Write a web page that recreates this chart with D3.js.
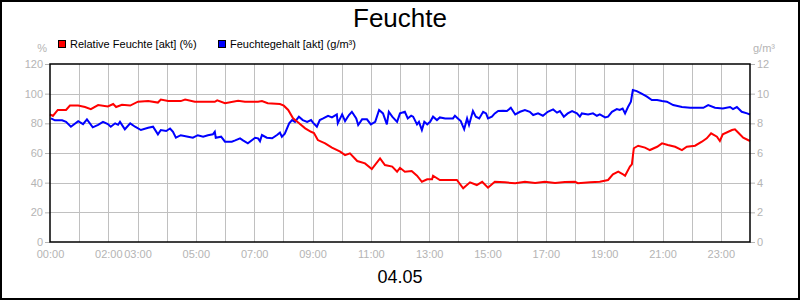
<!DOCTYPE html>
<html><head><meta charset="utf-8">
<script src="https://cdn.jsdelivr.net/npm/d3@7/dist/d3.min.js"></script>
<style>
html,body{margin:0;padding:0;background:#fff;}
svg{display:block;font-family:"Liberation Sans",Arial,sans-serif;}
</style></head>
<body><svg id="c" width="800" height="300"></svg>
<script>
const title = "Feuchte";
const dateLabel = "04.05";
const seriesNames = ["Relative Feuchte [akt] (%)", "Feuchtegehalt [akt] (g/m³)"];
const leftUnit = "%";
const rightUnit = "g/m³";
const leftTicks = [0,20,40,60,80,100,120];
const rightTicks = [0,2,4,6,8,10,12];
const xTickHours = [0,2,3,5,7,9,11,13,15,17,19,21,23];
const xTickLabels = ["00:00","02:00","03:00","05:00","07:00","09:00","11:00","13:00","15:00","17:00","19:00","21:00","23:00"];

// Relative humidity (%) : minutes since midnight, value
const rhTimes = [0,6,16,33,41,58,72,84,99,119,130,136,148,165,181,202,222,228,243,269,278,298,339,344,360,387,401,428,436,448,473,481,490,500,510,525,537,543,551,566,580,597,607,617,632,648,662,679,689,704,714,720,730,744,755,765,776,786,788,802,823,837,850,864,878,889,901,915,936,957,977,998,1018,1039,1059,1080,1086,1111,1131,1148,1158,1169,1177,1183,1193,1197,1201,1210,1224,1234,1249,1259,1271,1286,1300,1310,1327,1341,1351,1360,1372,1378,1384,1403,1409,1415,1426,1440];
const rhValues = [86,85,89,89,92,92,91,89.6,92.3,91.4,93,91,92.5,92,94.6,95,94,96,95,95,96,94.5,94.5,95.5,93.5,95.2,94.6,94.6,95,93.5,93,91.9,89,83.4,80.7,76.6,74.3,73.5,68.7,66.5,63.6,60.9,58.6,59.8,54.6,53,49.2,56.4,51.9,50.8,47.4,50,47.4,47.9,44.7,40.6,42.3,42.3,44.7,41.8,41.8,41.8,36.2,40.2,38.4,40.6,36.6,40.6,40.2,39.6,40.6,39.8,40.6,39.8,40.4,40.6,39.6,40.2,40.6,41.8,45.6,47.4,46,44.7,50.8,52.4,63.2,64.9,63.6,62,64.2,66.5,65.4,64.2,62,64.2,64.9,67.6,69.9,73.3,71,68.1,72.6,75.5,76,74,70.3,68.1];

// Absolute humidity (g/m³)
const ahTimes = [2,10,25,33,43,58,68,76,88,99,109,119,125,134,140,144,154,165,175,187,202,212,222,228,239,247,253,259,269,284,294,304,315,325,335,339,341,352,360,374,381,391,397,407,422,428,432,436,446,457,467,473,477,483,492,498,504,512,520,529,537,541,549,555,562,572,580,590,592,601,607,615,621,630,634,642,652,660,669,677,685,693,697,704,714,720,730,736,743,747,755,759,765,770,776,782,788,796,802,813,829,833,839,845,852,858,862,870,876,883,891,897,901,909,915,922,932,940,948,957,967,977,987,994,1004,1014,1024,1035,1043,1049,1057,1065,1074,1084,1090,1094,1107,1117,1125,1131,1142,1148,1156,1166,1172,1178,1183,1189,1195,1199,1207,1217,1228,1238,1249,1259,1269,1282,1300,1317,1333,1344,1354,1368,1384,1399,1405,1413,1423,1434,1440];
const ahValues = [8.34,8.2,8.2,8.1,7.77,8.15,7.95,8.27,7.73,7.9,8.1,7.95,7.77,8.0,7.9,8.1,7.6,8.0,7.77,7.55,7.7,7.77,7.26,7.55,7.48,7.65,7.43,7.03,7.2,7.1,7.03,7.2,7.1,7.2,7.26,7.43,7.03,7.1,6.76,6.76,6.85,6.99,6.85,6.65,7.03,6.99,6.8,7.21,7.03,6.99,7.21,7.37,7.1,7.3,8.0,8.22,8.1,8.45,8.22,8.1,8.22,8.05,7.77,8.22,8.33,8.51,8.4,8.6,8.0,8.6,8.15,8.56,8.78,8.33,7.89,8.27,8.27,7.93,8.1,8.9,8.67,7.93,8.78,8.45,8.1,8.67,8.78,8.33,8.51,8.45,7.93,8.1,7.55,8.1,7.93,8.1,8.45,8.22,8.4,8.33,8.33,8.51,8.33,8.15,7.6,8.33,7.89,8.83,8.45,8.33,8.78,8.67,8.33,8.45,8.67,8.83,8.85,8.83,9.05,8.6,8.78,8.9,8.78,8.56,8.67,8.51,8.78,8.94,8.72,8.83,8.45,8.67,8.83,8.67,8.45,8.67,8.6,8.67,8.51,8.6,8.4,8.45,8.78,8.96,8.9,9.0,8.67,9.1,9.46,10.24,10.17,10.0,9.8,9.57,9.57,9.5,9.46,9.23,9.1,9.05,9.05,9.05,9.23,9.05,9.0,9.1,8.96,9.1,8.78,8.67,8.6];

const svg = d3.select("#c");
const L = 50, R = 750, T = 64, B = 242;
const x = d3.scaleLinear().domain([0,1440]).range([L,R]);
const yL = d3.scaleLinear().domain([0,120]).range([B,T]);
const yR = d3.scaleLinear().domain([0,12]).range([B,T]);
const grey = "#b4b4b4";

svg.append("rect").attr("x",1).attr("y",1).attr("width",798).attr("height",298)
  .attr("fill","#fff").attr("stroke","#000").attr("stroke-width",2);

// grid
const grid = svg.append("g").attr("stroke","#c0c0c0").attr("stroke-width",1);
d3.range(1,24).forEach(h => {
  const xx = Math.round(x(h*60)) + 0.5;
  grid.append("line").attr("x1",xx).attr("x2",xx).attr("y1",T).attr("y2",B);
});
leftTicks.slice(1,-1).forEach(v => {
  const yy = Math.round(yL(v)) + 0.5;
  grid.append("line").attr("x1",L).attr("x2",R).attr("y1",yy).attr("y2",yy);
});

// axes
const axL = svg.append("g").attr("transform",`translate(${L},0)`)
  .call(d3.axisLeft(yL).tickValues(leftTicks).tickSize(5).tickPadding(2));
const axR = svg.append("g").attr("transform",`translate(${R},0)`)
  .call(d3.axisRight(yR).tickValues(rightTicks).tickSize(5).tickPadding(2));
const axX = svg.append("g").attr("transform",`translate(0,${B})`)
  .call(d3.axisBottom(x).tickValues(xTickHours.map(h=>h*60)).tickFormat((d,i)=>xTickLabels[i]).tickSize(0).tickPadding(8));
[axL,axR,axX].forEach(a => {
  a.select(".domain").remove();
  a.selectAll("line").attr("stroke",grey);
  a.selectAll("text").attr("fill",grey).style("font-size","11px").style("font-family","'Liberation Sans',Arial,sans-serif");
});

// lines
const lineRH = d3.line().x((d,i)=>x(rhTimes[i])).y(d=>yL(d));
const lineAH = d3.line().x((d,i)=>x(ahTimes[i])).y(d=>yR(d));
svg.append("path").datum(ahValues).attr("d",lineAH).attr("fill","none").attr("stroke","#0000ff").attr("stroke-width",2);
svg.append("path").datum(rhValues).attr("d",lineRH).attr("fill","none").attr("stroke","#ff0000").attr("stroke-width",2);

// frame
svg.append("rect").attr("x",L).attr("y",T).attr("width",R-L).attr("height",B-T)
  .attr("fill","none").attr("stroke","#000").attr("stroke-width",1.5);

// title & date
svg.append("text").attr("x",400).attr("y",27).attr("text-anchor","middle")
  .style("font-size","26px").attr("fill","#000").text(title);
svg.append("text").attr("x",400).attr("y",283).attr("text-anchor","middle")
  .style("font-size","18px").attr("fill","#000").text(dateLabel);

// units
svg.append("text").attr("x",47).attr("y",52).attr("text-anchor","end")
  .style("font-size","11px").attr("fill",grey).text(leftUnit);
svg.append("text").attr("x",753).attr("y",52)
  .style("font-size","11px").attr("fill",grey).text(rightUnit);

// legend
const legColors = ["#ff0000","#0000ff"];
const legX = [58,218];
seriesNames.forEach((n,i) => {
  svg.append("rect").attr("x",legX[i]+0.5).attr("y",40.5).attr("width",7).attr("height",7)
    .attr("fill",legColors[i]).attr("stroke","#000").attr("stroke-width",1);
  svg.append("text").attr("x",legX[i]+12).attr("y",48).style("font-size","11px")
    .attr("fill","#000").text(n);
});
</script></body></html>
